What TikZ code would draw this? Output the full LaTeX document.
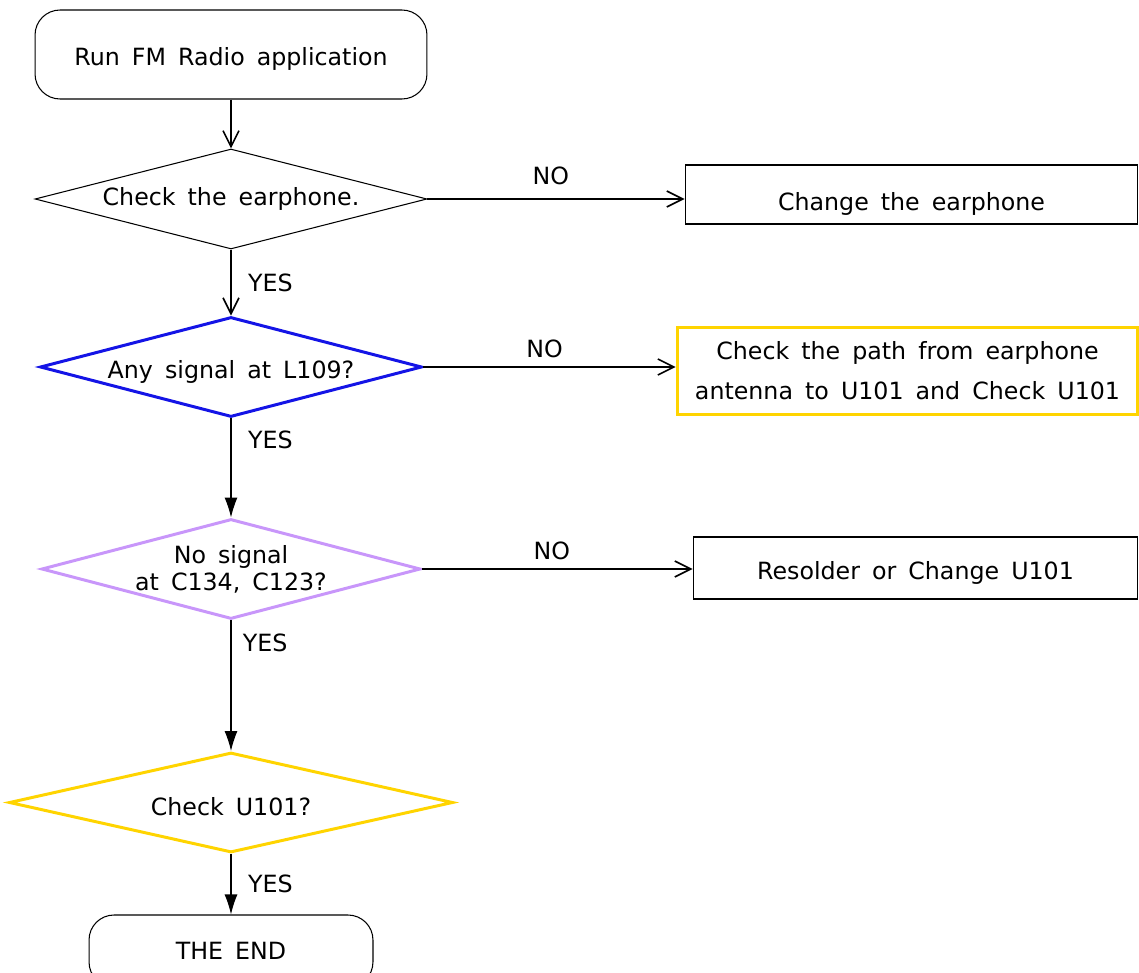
\documentclass[tikz,border=0pt]{standalone}
\usepackage{fontspec}
\setmainfont{DejaVu Sans}[WordSpace=1.6]
\usepackage{tikz}
\usetikzlibrary{arrows.meta, positioning, shapes.geometric, calc}
\definecolor{checkblue}{RGB}{20,20,230}
\definecolor{checkviolet}{RGB}{200,150,250}
\definecolor{checkgold}{RGB}{255,212,0}

\begin{document}
\begin{tikzpicture}[x=0.02cm, y=-0.02cm,
    font=\fontsize{13.5}{22.7}\selectfont,
    every node/.style={inner sep=0pt},
    lowered/.style={text height=16pt, text depth=3.2pt},
    terminal/.style={draw, line width=0.6pt, rounded corners=0.5cm},
    decision/.style={diamond, draw, aspect=3.9, minimum height=2cm},
    action/.style={draw, line width=0.6pt, align=center},
    openarrow/.style={-{Straight Barb[length=3.2mm, width=3.2mm, line width=0.9pt]}, line width=0.6pt},
    fillarrow/.style={-{Latex[length=4mm, width=2.6mm]}, line width=0.6pt},
    answer/.style={font=\fontsize{13.5}{16}\selectfont}]
  \useasboundingbox (0, 0) rectangle (1139, 973);
  % main column
  \node[terminal, lowered, minimum width=7.84cm, minimum height=1.78cm] (start) at (231, 54.5) {Run FM Radio application};
  \node[decision, line width=0.6pt, minimum width=7.84cm] (ear) at (231, 199) {Check the earphone.};
  \node[decision, lowered, draw=checkblue, line width=1.7pt, minimum width=7.64cm] (sig) at (231, 367) {Any signal at L109?};
  \node[decision, draw=checkviolet, line width=1.7pt, minimum width=7.54cm, align=center,
        font=\fontsize{13.5}{15.5}\selectfont] (cap) at (231, 569) {No signal\\at C134, C123?};
  \node[decision, text height=18.5pt, text depth=3.2pt, draw=checkgold, line width=1.7pt, minimum width=8.88cm] (chip) at (231, 802.5) {Check U101?};
  \node[terminal, minimum width=5.68cm, minimum height=1.44cm] (done) at (231, 951) {THE END};
  % right column
  \node[action, text height=21pt, text depth=3.2pt, minimum width=9.06cm, minimum height=1.18cm] (swap) at (911.5, 194.5) {Change the earphone};
  \node[action, draw=checkgold, line width=1.7pt, minimum width=9.22cm, minimum height=1.76cm] (path) at (907.5, 371)
    {Check the path from earphone\\antenna to U101 and Check U101};
  \node[action, lowered, minimum width=8.9cm, minimum height=1.24cm] (solder) at (915.5, 568) {Resolder or Change U101};
  % YES branches
  \draw[openarrow] (start) -- (ear);
  \draw[openarrow] (ear) -- node[answer, pos=0.5, right=9.5pt] {YES} (sig);
  \draw[fillarrow] (sig) -- node[answer, pos=0.22, right=9.5pt] {YES} (cap);
  \draw[fillarrow] (cap) -- node[answer, pos=0.17, right=6.5pt] {YES} (chip);
  \draw[fillarrow] (chip) -- node[answer, pos=0.5, right=9.5pt] {YES} (done.north);
  % NO branches
  \draw[openarrow] (ear.east) -- node[answer, pos=0.48, above=8pt] {NO} (ear.east -| swap.west);
  \draw[openarrow] (sig.east) -- node[answer, pos=0.48, above=5pt] {NO} (sig.east -| path.west);
  \draw[openarrow] (cap.east) -- node[answer, pos=0.48, above=5pt] {NO} (cap.east -| solder.west);
\end{tikzpicture}
\end{document}
